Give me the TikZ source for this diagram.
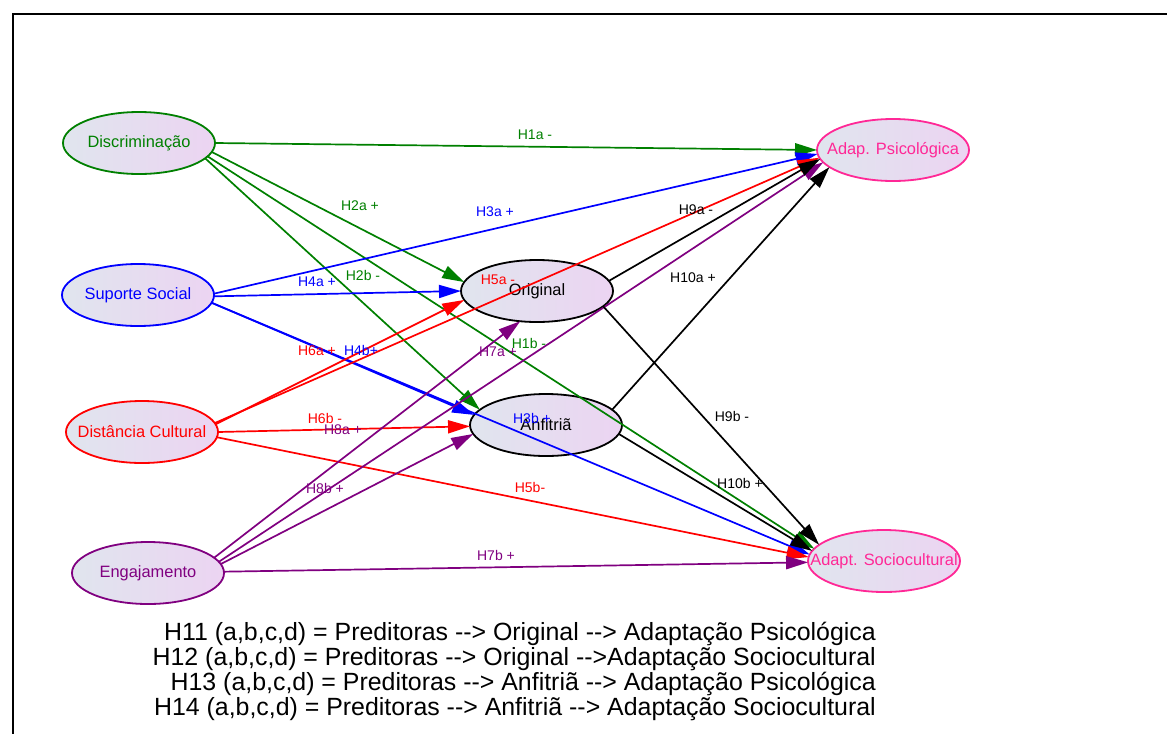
\documentclass[tikz,border=0pt]{standalone}
\usepackage{fontspec}
\setmainfont{Liberation Sans}
\usetikzlibrary{arrows.meta,shapes.geometric}

\definecolor{dgreen}{RGB}{0,128,0}
\definecolor{pblue}{RGB}{0,0,255}
\definecolor{pred}{RGB}{255,0,0}
\definecolor{ppurple}{RGB}{128,0,128}
\definecolor{ppink}{RGB}{255,40,150}
\definecolor{fillL}{RGB}{224,229,238}
\definecolor{fillR}{RGB}{236,212,242}

% node text that does not widen the ellipse
\newcommand{\nodetxt}[1]{\makebox[0pt]{#1}}
% plain arrow written as text, without the en-dash ligature
\newcommand{\txtarrow}{-{}-{}>}

\begin{document}
\begin{tikzpicture}[x=1pt,y=-1pt,
  var/.style={ellipse, draw, line width=1.8pt, minimum width=152pt,
    minimum height=62pt, inner sep=0pt, outer sep=0pt,
    left color=fillL, right color=fillR,
    font=\fontsize{16.4}{19}\selectfont},
  eg/.style={line width=1.7pt, -{Triangle[length=22pt,width=13pt]}},
  lbl/.style={font=\fontsize{14}{16}\selectfont, inner sep=0pt},
  foot/.style={font=\fontsize{24.9}{25}\selectfont, anchor=base east, inner sep=0pt}]

\useasboundingbox (0,0) rectangle (1167,734);
\fill[white] (0,0) rectangle (1167,734);

% frame
\draw[line width=2pt] (1167,13.5) -- (12.5,13.5) -- (12.5,734);

% constructs
\node[var, draw=dgreen, text=dgreen]    (disc)  at (139,143) {\nodetxt{Discriminação}};
\node[var, draw=pblue, text=pblue]      (sup)   at (138,295) {\nodetxt{Suporte Social}};
\node[var, draw=pred, text=pred]        (dist)  at (142,432) {\nodetxt{Distância Cultural}};
\node[var, draw=ppurple, text=ppurple]  (eng)   at (148,573) {\nodetxt{Engajamento}};
\node[var, draw=black, text=black]      (orig)  at (537,291) {\nodetxt{Original}};
\node[var, draw=black, text=black]      (anf)   at (546,425) {\nodetxt{Anfitriã}};
\node[var, draw=ppink, text=ppink]      (adpsi) at (893,150) {\nodetxt{Adap. Psicológica}};
\node[var, draw=ppink, text=ppink]      (adsoc) at (884,561) {\nodetxt{Adapt. Sociocultural}};

% paths from Discriminação
\draw[eg, dgreen] (disc.0)    -- (adpsi.180);
\draw[eg, dgreen] (disc.-7.7) -- (orig.173);
\draw[eg, dgreen] (disc.-13)  -- (anf.167.7);
\draw[eg, dgreen] (disc.-11)  -- (adsoc.170.4);

% paths from Suporte Social
\draw[eg, pblue] (sup.1.5)  -- (adpsi.183.8);
\draw[eg, pblue] (sup.-1)   -- (orig.180);
\draw[eg, pblue] (sup.-6.5) -- (anf.172.3);
\draw[eg, pblue] (sup.-6)   -- (adsoc.175.4);

% paths from Distância Cultural
\draw[eg, pred] (dist.7)  -- (adpsi.186.3);
\draw[eg, pred] (dist.6)  -- (orig.187);
\draw[eg, pred] (dist.0)  -- (anf.181);
\draw[eg, pred] (dist.-4) -- (adsoc.177.7);

% paths from Engajamento
\draw[eg, ppurple] (eng.9)    -- (adpsi.190.4);
\draw[eg, ppurple] (eng.13.4) -- (orig.241.3);
\draw[eg, ppurple] (eng.7.7)  -- (anf.187.7);
\draw[eg, ppurple] (eng.1)    -- (adsoc.181);

% paths from the mediators
\draw[eg, black] (orig.8.3)   -- (adpsi.187.8);
\draw[eg, black] (orig.-13.8) -- (adsoc.166.4);
\draw[eg, black] (anf.13.8)   -- (adpsi.195.5);
\draw[eg, black] (anf.-7.9)   -- (adsoc.172.9);

% path labels
\node[lbl, text=dgreen] (l1a) at (535,135) {H1a -};
\node[lbl, text=dgreen] (l2a) at (360,206) {H2a +};
\node[lbl, text=dgreen] (l2b) at (363,275) {H2b -};
\node[lbl, text=dgreen] (l1b) at (529,343) {H1b -};

\node[lbl, text=pblue] (l3a) at (495,212) {H3a +};
\node[lbl, text=pblue] (l4a) at (317,282) {H4a +};
\node[lbl, text=pblue] (l4b) at (361,350) {H4b+};
\node[lbl, text=pblue] (l3b) at (532,418) {H3b +};

\node[lbl, text=pred] (l5a) at (498,280) {H5a -};
\node[lbl, text=pred] (l6a) at (317,351) {H6a +};
\node[lbl, text=pred] (l6b) at (325,418) {H6b -};
\node[lbl, text=pred] (l5b) at (530,487) {H5b-};

\node[lbl, text=ppurple] (l7a) at (498,352) {H7a +};
\node[lbl, text=ppurple] (l8a) at (343,430) {H8a +};
\node[lbl, text=ppurple] (l8b) at (325,488) {H8b +};
\node[lbl, text=ppurple] (l7b) at (496,555) {H7b +};

\node[lbl, text=black] (l9a)  at (696,210) {H9a -};
\node[lbl, text=black] (l10a) at (693,278) {H10a +};
\node[lbl, text=black] (l9b)  at (732,416) {H9b -};
\node[lbl, text=black] (l10b) at (740,483) {H10b +};

% mediation hypotheses
\node[foot] (h11) at (876,640) {H11 (a,b,c,d) = Preditoras \txtarrow{} Original \txtarrow{} Adaptação Psicológica};
\node[foot] (h12) at (876,665) {H12 (a,b,c,d) = Preditoras \txtarrow{} Original \txtarrow{}Adaptação Sociocultural};
\node[foot] (h13) at (876,690) {H13 (a,b,c,d) = Preditoras \txtarrow{} Anfitriã \txtarrow{} Adaptação Psicológica};
\node[foot] (h14) at (876,715) {H14 (a,b,c,d) = Preditoras \txtarrow{} Anfitriã \txtarrow{} Adaptação Sociocultural};
\end{tikzpicture}
\end{document}
